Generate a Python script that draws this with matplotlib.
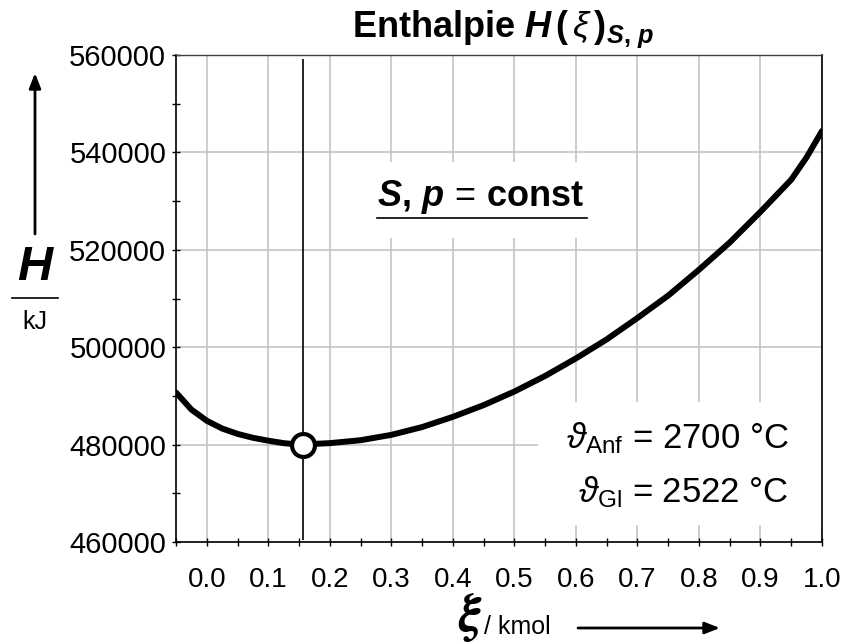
import matplotlib
matplotlib.use("Agg")
import matplotlib.pyplot as plt
from matplotlib.ticker import MultipleLocator
from matplotlib.lines import Line2D
from matplotlib.patches import Rectangle

plt.rcParams['font.family'] = ['Liberation Sans', 'DejaVu Sans']
plt.rcParams['mathtext.fontset'] = 'custom'
plt.rcParams['mathtext.rm'] = 'Liberation Sans'
plt.rcParams['mathtext.it'] = 'Liberation Sans:italic'
plt.rcParams['mathtext.bf'] = 'Liberation Sans:bold'
plt.rcParams['mathtext.bfit'] = 'Liberation Sans:bold:italic'

# reaction coordinate (kmol) and enthalpy (kJ)
xi = [-0.05, -0.025, 0.0, 0.025, 0.05, 0.075, 0.1, 0.125, 0.15, 0.2, 0.25, 0.3,
      0.35, 0.4, 0.45, 0.5, 0.55, 0.6, 0.65, 0.7, 0.75, 0.8, 0.85, 0.9, 0.95,
      0.975, 1.0]
H = [490700, 487200, 484900, 483300, 482200, 481400, 480800, 480300, 480000,
     480300, 480900, 482000, 483600, 485700, 488100, 490900, 494100, 497700,
     501600, 506000, 510600, 515900, 521500, 527800, 534400, 539000, 544400]

# equilibrium point
xi_eq = 0.157
H_eq = 480000
vline_span = [460400, 559200]

x_ticks = [0.0, 0.1, 0.2, 0.3, 0.4, 0.5, 0.6, 0.7, 0.8, 0.9, 1.0]
x_labels = ['0.0', '0.1', '0.2', '0.3', '0.4', '0.5', '0.6', '0.7', '0.8', '0.9', '1.0']
y_ticks = [460000, 480000, 500000, 520000, 540000, 560000]

W, Hpx = 846, 644
fig = plt.figure(figsize=(W / 100, Hpx / 100), dpi=100)
ax = fig.add_axes([176 / W, 1 - 542 / Hpx, 646 / W, 487 / Hpx])

ax.plot(xi, H, color='black', lw=4.3, solid_capstyle='round',
        solid_joinstyle='round', zorder=4)
ax.vlines(xi_eq, vline_span[0], vline_span[1], color='black', lw=1.2, zorder=3)
ax.plot([xi_eq], [H_eq], 'o', ms=16.5, mfc='white', mec='black', mew=3, zorder=5)

ax.set_xlim(-0.05, 1.0)
ax.set_ylim(460000, 560000)
ax.set_xticks(x_ticks)
ax.set_xticklabels(x_labels, family=['Liberation Sans Narrow', 'Liberation Sans'],
                   fontsize=20)
ax.xaxis.set_minor_locator(MultipleLocator(0.05))
ax.set_yticks(y_ticks)
ax.set_yticklabels([str(v) for v in y_ticks], fontsize=21)
ax.yaxis.set_minor_locator(MultipleLocator(10000))

ax.tick_params(which='both', direction='inout', length=6, width=1, color='black')
ax.tick_params(axis='x', which='both', pad=15)
ax.tick_params(axis='y', which='both', pad=4)
ax.grid(which='major', color='#c0c0c0', lw=1.1, zorder=0)
ax.set_axisbelow(True)

for s in ['left', 'bottom', 'right']:
    ax.spines[s].set_linewidth(1.2)
ax.spines['top'].set_color('#404040')
ax.spines['top'].set_linewidth(1.0)

# white boxes behind the annotations
ax.add_patch(Rectangle((0.56, 0.035), 0.44, 0.252, transform=ax.transAxes,
                       facecolor='white', edgecolor='none', zorder=1))
ax.add_patch(Rectangle((0.27, 0.625), 0.4, 0.155, transform=ax.transAxes,
                       facecolor='white', edgecolor='none', zorder=1))

def fx(px):
    return px / W

def fy(py):
    return 1 - py / Hpx

# S, p = const
fig.text(fx(481), fy(206), r'$\mathbfit{S}\mathbf{,}\ \mathbfit{p}\,=\,\mathbf{const}$',
         fontsize=26, ha='center', va='baseline', zorder=6)
fig.add_artist(Line2D([fx(377), fx(587)], [fy(218), fy(218)], color='black', lw=1.2))

# temperatures
fig.text(fx(789), fy(448), r'$\vartheta_{\mathrm{Anf}}$ = 2700 °C', fontsize=25,
         ha='right', va='baseline')
fig.text(fx(789), fy(502), r'$\vartheta_{\mathrm{Gl}}$ = 2522 °C', fontsize=25,
         ha='right', va='baseline')

# title
fig.text(fx(503), fy(37),
         r'Enthalpie $\mathbfit{H}\,\mathbf{(}\,\xi\,\mathbf{)}_{\mathbfit{S}\mathbf{,}\ \mathbfit{p}}$',
         fontsize=26, fontweight='bold', ha='center', va='baseline')

# y label: H over kJ with arrow
fig.text(fx(35), fy(268), 'H', fontsize=35, fontweight='bold', fontstyle='italic',
         ha='center', va='center')
fig.add_artist(Line2D([fx(12), fx(58)], [fy(298), fy(298)], color='black', lw=1.2))
fig.text(fx(35), fy(322), 'kJ', fontsize=18, ha='center', va='center')
ax.annotate('', xy=(fx(35), fy(73)), xytext=(fx(35), fy(234)), xycoords='figure fraction',
            textcoords='figure fraction', annotation_clip=False,
            arrowprops=dict(arrowstyle='-|>,head_length=0.9,head_width=0.35',
                            color='black', lw=2, shrinkA=0, shrinkB=0))

# x label: xi / kmol with arrow
fig.text(fx(470), fy(618), r'$\boldsymbol{\xi}$', fontsize=38, math_fontfamily='cm',
         ha='center', va='center')
fig.text(fx(484), fy(634), '/ kmol', fontsize=18, ha='left', va='baseline')
ax.annotate('', xy=(fx(720), fy(628)), xytext=(fx(578), fy(628)), xycoords='figure fraction',
            textcoords='figure fraction', annotation_clip=False,
            arrowprops=dict(arrowstyle='-|>,head_length=0.9,head_width=0.35',
                            color='black', lw=2, shrinkA=0, shrinkB=0))

fig.savefig('out.png', dpi=100)
